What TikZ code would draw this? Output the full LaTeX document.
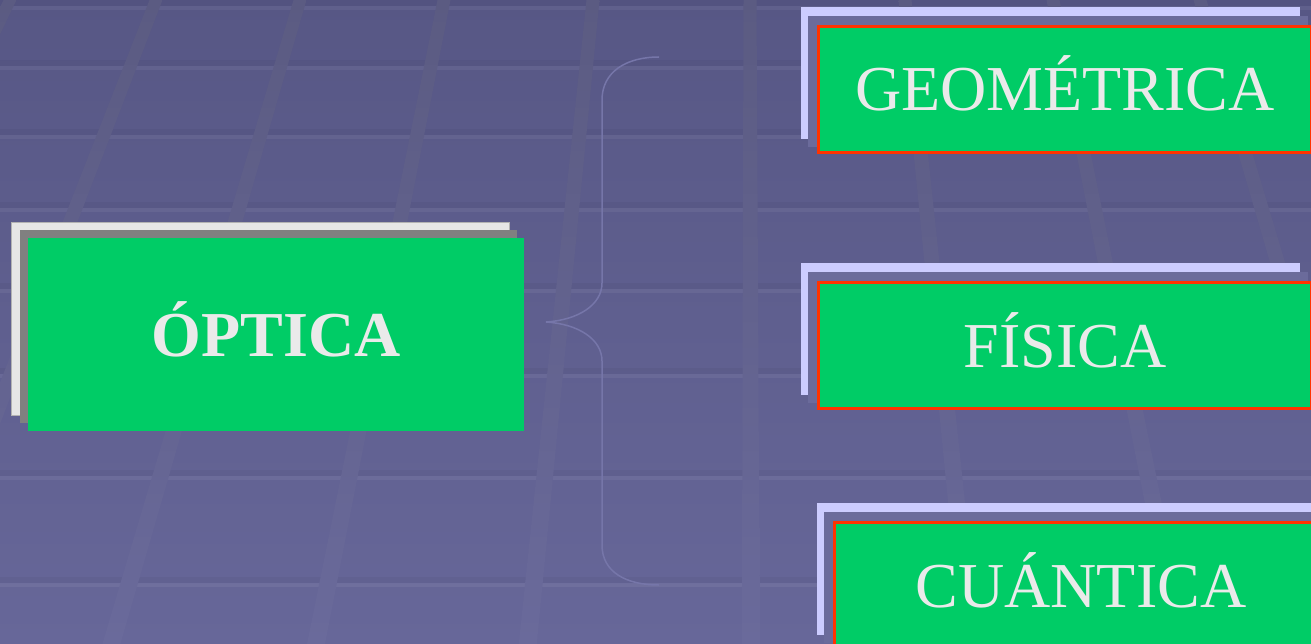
\documentclass[tikz,border=0pt]{standalone}
\usepackage{fontspec}
\setmainfont{Liberation Serif}
\usetikzlibrary{calc}
\pgfdeclarelayer{bg}
\pgfdeclarelayer{shade}
\pgfsetlayers{bg,shade,main}

\definecolor{bgtop}{HTML}{575785}
\definecolor{bgbot}{HTML}{676799}
\definecolor{linetop}{HTML}{5B5B82}
\definecolor{linebot}{HTML}{6A6A9B}
\definecolor{boxgreen}{HTML}{00CC66}
\definecolor{edgered}{HTML}{FF3300}
\definecolor{lavender}{HTML}{CCCCFF}
\definecolor{midshade}{HTML}{6B6B9B}
\definecolor{paper}{HTML}{E6E6E6}
\definecolor{slate}{HTML}{808080}
\definecolor{label}{HTML}{EAEAEA}
\definecolor{bracec}{HTML}{7676A9}

\tikzset{
  rootbox/.style={fill=boxgreen, minimum width=496pt, minimum height=193pt,
    inner sep=0pt, text=label, font=\fontsize{64}{64}\selectfont\bfseries,
    text height=43pt, text depth=0pt},
  leafbox/.style={draw=edgered, line width=3pt, fill=boxgreen,
    minimum width=493pt, minimum height=126pt, inner sep=0pt, text=label,
    font=\fontsize{64}{64}\selectfont, text height=43pt, text depth=0pt},
  rootback/.style={fill=paper, draw=black!30, line width=0.4pt},
  rootmid/.style={fill=slate},
  leafback/.style={fill=lavender},
  leafmid/.style={fill=midshade},
  bracestyle/.style={draw=bracec, line width=1.5pt},
}

\begin{document}
\begin{tikzpicture}[x=1pt,y=-1pt]
\useasboundingbox (0,0) rectangle (1311,644);

% backdrop: gradient, horizontal rails and perspective posts
\begin{pgfonlayer}{bg}
  \shade[top color=bgtop, bottom color=bgbot] (0,0) rectangle (1311,644);
  \foreach \y in {8,68,137,210,291,376,478,585} {
    \fill[black, opacity=0.035] (0,\y-8) rectangle (1311,\y-2);
    \fill[white, opacity=0.06] (0,\y-2) rectangle (1311,\y+2);
  }
  \foreach \x in {10,156,300,444,593,750,905,1053,1200,1348} {
    \pgfmathsetmacro\xb{748+(\x-748)*1.421}
    \shade[top color=linetop, bottom color=linebot]
      (\x-6.5,0) -- (\x+6.5,0) -- (\xb+9,644) -- (\xb-9,644) -- cycle;
  }
\end{pgfonlayer}

% boxes
\node[rootbox] (opt) at (276,334.5) {ÓPTICA};
\node[leafbox] (geo) at (1065,89.5) {GEOMÉTRICA};
\node[leafbox] (fis) at (1065,345.5) {FÍSICA};
\node[leafbox] (cua) at (1081,585.5) {CUÁNTICA};

% stacked sheets behind the boxes
\begin{pgfonlayer}{shade}
  \fill[rootback] ($(opt.north west)+(-17,-16)$) rectangle ($(opt.south east)+(-15,-16)$);
  \fill[rootmid]  ($(opt.north west)+(-8,-8)$) rectangle ($(opt.south east)+(-7,-8)$);
  \foreach \n in {geo,fis,cua} {
    \fill[leafback] ($(\n.north west)+(-16,-18)$) rectangle ($(\n.south east)+(-13,-15)$);
    \fill[leafmid]  ($(\n.north west)+(-9,-9)$) rectangle ($(\n.south east)+(-5,-7)$);
  }
\end{pgfonlayer}

% curly brace
\coordinate (tip) at (546,322);
\draw[bracestyle] (659,57) .. controls (626,57) and (602,72) .. (602,100)
  -- (602,283) .. controls (602,305) and (578,320) .. (tip)
  .. controls (578,324) and (602,339) .. (602,361)
  -- (602,545) .. controls (602,572) and (626,585) .. (659,585);
\end{tikzpicture}
\end{document}
